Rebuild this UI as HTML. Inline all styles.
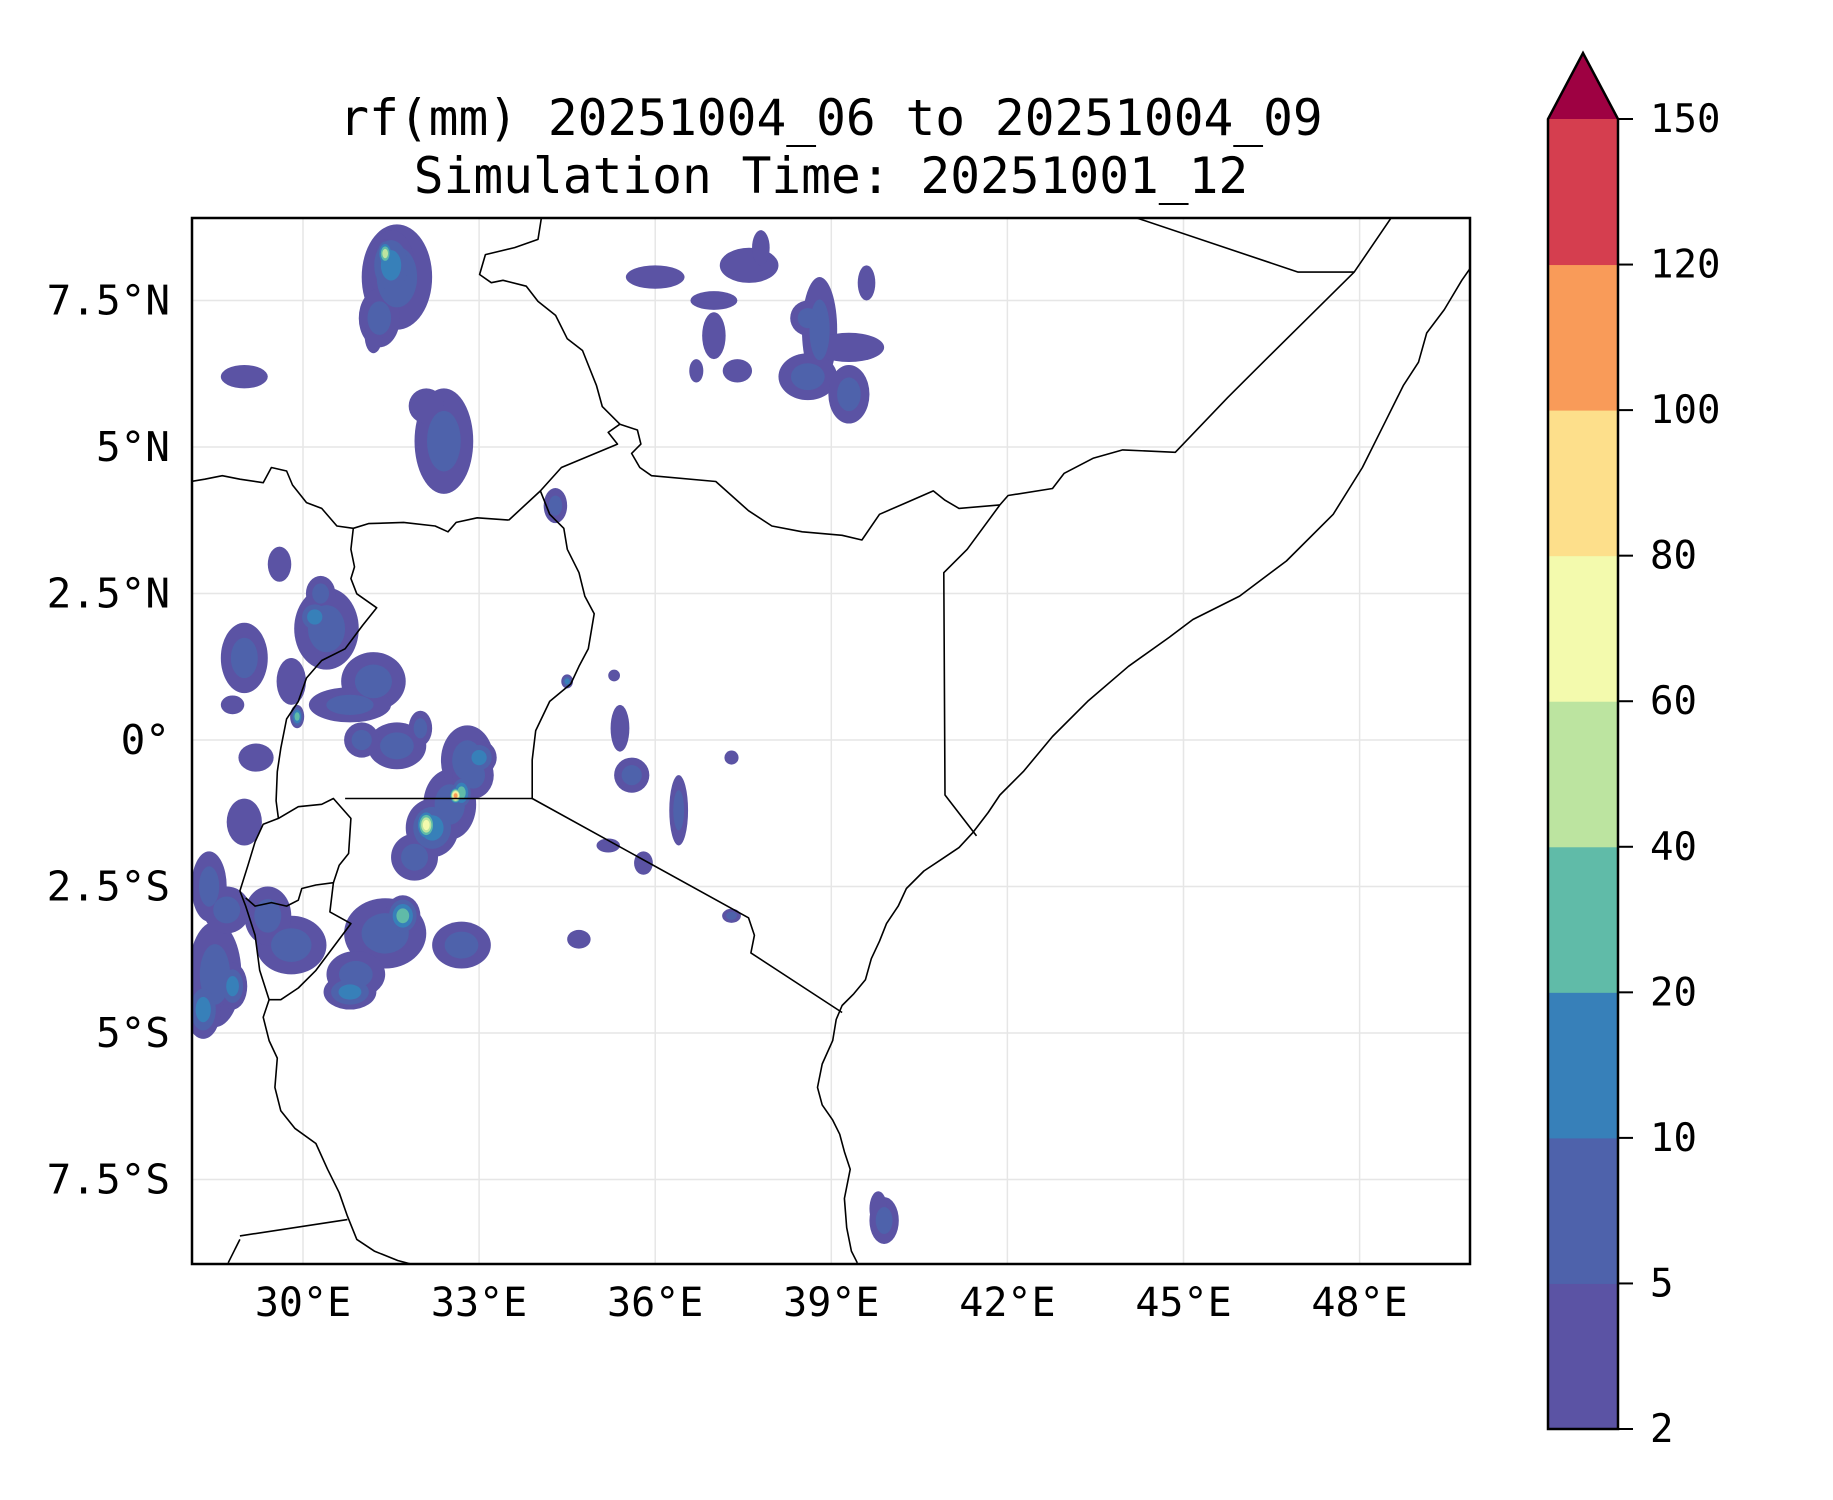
<!DOCTYPE html>
<html><head><meta charset="utf-8">
<style>
html,body{margin:0;padding:0;background:#fff;}
svg{display:block;font-family:"DejaVu Sans Mono","Liberation Mono",monospace;}
</style></head>
<body>
<svg id="fig" width="1833" height="1500" viewBox="0 0 1833 1500" xmlns="http://www.w3.org/2000/svg">
<text x="831" y="135" font-size="49.5" text-anchor="middle">rf(mm) 20251004_06 to 20251004_09</text>
<text x="831" y="193" font-size="49.5" text-anchor="middle">Simulation Time: 20251001_12</text>
<defs><clipPath id="mapclip"><rect x="192" y="218" width="1278" height="1046"/></clipPath></defs>
<g id="grid"></g>
<g id="rain" clip-path="url(#mapclip)"></g>
<g id="borders" clip-path="url(#mapclip)"></g>
<rect x="192" y="218" width="1278" height="1046" fill="none" stroke="#000" stroke-width="2.5"/>
<g id="labels"></g>
<g id="cbar"></g>
</svg>
<script>
// ---- data ----
const lonTicks = [30,33,36,39,42,45,48];
const lonTickLabels = ["30°E","33°E","36°E","39°E","42°E","45°E","48°E"];
const latTicks = [7.5,5,2.5,0,-2.5,-5,-7.5];
const latTickLabels = ["7.5°N","5°N","2.5°N","0°","2.5°S","5°S","7.5°S"];
const levels = [2,5,10,20,40,60,80,100,120,150];
const levelColors = ["#5b53a4","#4e62ab","#3780b9","#60bba8","#bce4a0","#f3faad","#fddf8b","#f99b59","#d53e4f"];
const extendColor = "#9e0142";
// rain cells: lon, lat, radius-lon(deg), radius-lat(deg), level index
const rainLon = [31.6,31.5,31.4,31.3,31.2,38.8,39.3,37.6,36.0,37.0,38.6,37.4,36.7,37.8,29.0,32.4,32.1,34.3,
30.4,30.2,31.2,30.8,29.8,29.0,28.8,29.2,29.9,32.5,32.2,32.1,32.6,32.8,33.0,31.6,
31.4,31.7,32.7,29.8,28.5,28.8,28.4,29.0,35.6,35.4,36.4,35.8,37.3,34.7,35.2,37.3,34.5,35.3,39.9,39.8,
28.3,28.7,30.8,29.4,38.6,39.3,37.0,39.6,31.0,32.0,30.3,29.6,31.9,32.9,30.9,32.7];
const rainLat = [7.9,8.1,8.3,7.2,6.9,7.0,6.7,8.1,7.9,7.5,6.2,6.3,6.3,8.4,6.2,5.1,5.7,4.0,
1.9,2.1,1.0,0.6,1.0,1.4,0.6,-0.3,0.4,-1.1,-1.5,-1.45,-0.95,-0.35,-0.3,-0.1,
-3.3,-3.0,-3.5,-3.5,-4.0,-4.2,-2.5,-1.4,-0.6,0.2,-1.2,-2.1,-3.0,-3.4,-1.8,-0.3,1.0,1.1,-8.2,-8.0,
-4.6,-2.9,-4.3,-3.0,7.2,5.9,6.9,7.8,0.0,0.2,2.5,3.0,-2.0,-0.6,-4.0,-0.9];
const rainRx = [0.6,0.4,0.15,0.35,0.15,0.3,0.6,0.5,0.5,0.4,0.5,0.25,0.12,0.15,0.4,0.5,0.3,0.2,
0.55,0.3,0.55,0.7,0.25,0.4,0.2,0.3,0.12,0.45,0.45,0.2,0.12,0.45,0.3,0.5,
0.7,0.3,0.5,0.6,0.45,0.25,0.3,0.3,0.3,0.16,0.16,0.16,0.16,0.2,0.2,0.12,0.1,0.1,0.25,0.15,
0.3,0.4,0.45,0.4,0.3,0.35,0.2,0.15,0.3,0.2,0.25,0.2,0.4,0.35,0.5,0.2];
const rainRy = [0.9,0.6,0.25,0.5,0.3,0.9,0.25,0.3,0.2,0.16,0.4,0.2,0.2,0.3,0.2,0.9,0.3,0.3,
0.7,0.3,0.5,0.3,0.4,0.6,0.16,0.24,0.2,0.6,0.5,0.3,0.16,0.6,0.3,0.4,
0.6,0.35,0.4,0.5,0.9,0.4,0.6,0.4,0.3,0.4,0.6,0.2,0.12,0.16,0.12,0.12,0.12,0.1,0.4,0.3,
0.5,0.4,0.3,0.5,0.3,0.5,0.4,0.3,0.3,0.3,0.3,0.3,0.4,0.4,0.4,0.3];
const rainLevel = [1,2,4,1,0,1,0,0,0,0,1,0,0,0,0,1,0,1,
1,2,1,1,0,1,0,0,3,1,2,5,7,1,2,1,
1,3,1,1,1,2,1,0,1,0,1,0,1,0,0,0,2,0,1,0,
2,1,2,1,1,1,0,0,1,1,1,0,1,1,1,3];
// ---- axis functions ----
const X = lon => 303 + (lon-30)*58.7;
const Y = lat => 740 - lat*58.6;
const toLon = dx => 30 + (dx-259)/50.2;
const toLat = dy => (633-dy)/50.1;
const lines = [
[[733,1080],[728,1070],[724,1050],[722,1025],[727,1000],[722,985],[718,970],[712,958],[703,945],[699,930],[703,910],[712,890],[715,872],[720,860],[730,850],[740,838],[745,820],[752,805],[758,790],[768,775],[775,760],[790,745],[805,735],[820,725],[832,712],[845,695],[855,680],[875,660],[900,630],[930,600],[965,570],[1000,545],[1020,530],[1060,510],[1100,480],[1140,440],[1165,400],[1185,360],[1200,330],[1213,310],[1220,285],[1235,265],[1250,240],[1257,230]],
[[835,715],[808,680],[807,490],[827,470],[855,432]],
[[855,432],[862,424],[900,418],[910,405],[935,392],[960,385],[1005,387],[1050,340],[1085,305],[1158,233],[1190,186]],
[[1158,233],[1110,233],[970,186]],
[[855,432],[820,435],[808,428],[798,420],[775,430],[752,440],[737,462],[720,458],[686,455],[660,450],[640,437],[612,412],[557,407],[547,400],[540,388],[548,380],[545,368],[530,363],[520,370],[528,380],[480,400],[462,420],[435,445]],
[[530,363],[515,348],[510,330],[498,300],[485,290],[475,270],[460,258],[450,245],[430,240],[420,242],[410,235],[415,218],[440,212],[460,205],[463,186]],
[[462,420],[470,440],[482,452],[485,470],[495,490],[500,510],[508,525],[503,555],[495,570],[488,585],[470,600],[458,625],[455,650],[455,683],[640,785],[645,800],[642,815],[720,866]],
[[295,683],[455,683]],
[[435,445],[408,443],[390,447],[383,455],[372,450],[345,447],[315,448],[302,452],[300,470],[303,485],[300,495],[305,508],[322,520],[310,535],[295,555],[275,565],[262,580],[255,600],[245,615],[240,640],[237,660],[236,685],[238,700],[225,705],[218,720],[212,740],[205,762],[210,775],[218,800],[222,830],[230,855],[225,870],[230,890],[237,905],[235,930],[240,950],[252,965],[270,978],[280,1000],[290,1020],[297,1040],[305,1060],[320,1070],[340,1078],[355,1082]],
[[163,412],[175,410],[190,407],[205,410],[225,413],[232,400],[245,403],[250,415],[262,430],[275,435],[288,450],[302,452]],
[[238,700],[255,690],[275,688],[285,683],[300,700],[298,730],[290,740],[285,755],[270,757],[258,760],[255,770],[245,775],[232,772],[218,775],[210,768]],
[[285,755],[282,780],[300,790],[285,810],[270,830],[255,845],[240,855],[230,855]],
[[205,1057],[297,1043]],[[195,1080],[205,1060]]
];
const NS="http://www.w3.org/2000/svg";
function mk(tag,attrs,parent){const e=document.createElementNS(NS,tag);for(const k in attrs)e.setAttribute(k,attrs[k]);parent.appendChild(e);return e;}
const grid=document.getElementById('grid');
lonTicks.forEach(v=>{const l=mk('line',{x1:X(v),x2:X(v),y1:218,y2:1264,stroke:'#e6e6e6','stroke-width':1.5},grid);

});
latTicks.forEach(v=>{const l=mk('line',{x1:192,x2:1470,y1:Y(v),y2:Y(v),stroke:'#e6e6e6','stroke-width':1.5},grid);

});
const rain=document.getElementById('rain');
for(let lev=0;lev<levelColors.length;lev++){
  for(let i=0;i<rainLon.length;i++){
    if(rainLevel[i]<lev)continue;
    const shrink=1-(lev/(rainLevel[i]+1))*0.85;
    const e=mk('ellipse',{cx:X(rainLon[i]),cy:Y(rainLat[i]),rx:rainRx[i]*58.7*shrink,ry:rainRy[i]*58.6*shrink,fill:levelColors[lev]},rain);
    
    
  }
}
const b=document.getElementById('borders');
lines.forEach(pts=>{const d=pts.map((p,j)=>(j?'L':'M')+X(toLon(p[0])).toFixed(1)+' '+Y(toLat(p[1])).toFixed(1)).join(' ');
const p=mk('path',{d:d,fill:'none',stroke:'#000','stroke-width':1.6,'stroke-linejoin':'round'},b);

});
const lab=document.getElementById('labels');
lonTicks.forEach((v,i)=>{const t=mk('text',{x:X(v),y:1316,'font-size':40,'text-anchor':'middle'},lab);t.textContent=lonTickLabels[i];

});
latTicks.forEach((v,i)=>{const t=mk('text',{x:170,y:Y(v)+14,'font-size':41,'text-anchor':'end'},lab);t.textContent=latTickLabels[i];

});
const cb=document.getElementById('cbar');
const cx0=1548,cx1=1618,cTop=119,cBot=1429,seg=(cBot-cTop)/levelColors.length;
levelColors.forEach((c,i)=>{const r=mk('rect',{x:cx0,y:cBot-(i+1)*seg,width:cx1-cx0,height:seg+0.5,fill:c},cb);

});
const ar=mk('path',{d:`M${cx0} ${cTop} L${(cx0+cx1)/2} 53 L${cx1} ${cTop} Z`,fill:extendColor},cb);


const ol=mk('path',{d:`M${cx0} ${cBot} L${cx0} ${cTop} L${(cx0+cx1)/2} 53 L${cx1} ${cTop} L${cx1} ${cBot} Z`,fill:'none',stroke:'#000','stroke-width':2.5},cb);


levels.forEach((v,i)=>{const y=cBot-i*seg;
const tk=mk('line',{x1:cx1,x2:cx1+15,y1:y,y2:y,stroke:'#000','stroke-width':2},cb);


const t=mk('text',{x:1650,y:y+13,'font-size':39},cb);t.textContent=v;

});
</script>
</body></html>
